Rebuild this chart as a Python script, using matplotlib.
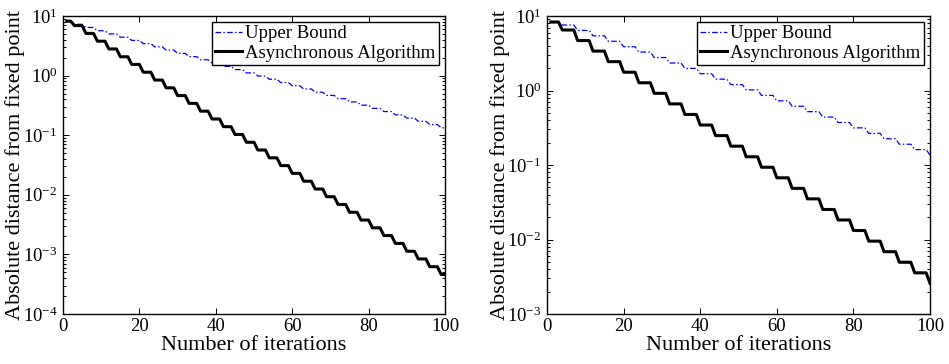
import matplotlib
matplotlib.use("Agg")
import matplotlib.pyplot as plt
from matplotlib.ticker import LogLocator, LogFormatterMathtext, NullFormatter, FixedLocator

plt.rcParams['font.family'] = ['Liberation Serif', 'DejaVu Serif']
plt.rcParams['mathtext.fontset'] = 'custom'
plt.rcParams['mathtext.rm'] = 'Liberation Serif'
plt.rcParams['mathtext.it'] = 'Liberation Serif:italic'
plt.rcParams['mathtext.bf'] = 'Liberation Serif:bold'

# ---------------- data ----------------
iterations = list(range(1, 101))

left_upper_bound = [
    8.24, 8.24,
    7.27, 7.27, 7.27, 6.42, 6.42, 6.42, 5.66, 5.66, 5.66,
    5.00, 5.00, 5.00, 4.41, 4.41, 4.41, 3.89, 3.89, 3.89,
    3.44, 3.44, 3.44, 3.03, 3.03, 3.03, 2.68, 2.68, 2.68,
    2.36, 2.36, 2.36, 2.08, 2.08, 2.08, 1.84, 1.84, 1.84,
    1.62, 1.62, 1.62, 1.43, 1.43, 1.43, 1.26, 1.26, 1.26,
    1.11, 1.11, 1.11, 0.984, 0.984, 0.984, 0.868, 0.868, 0.868,
    0.766, 0.766, 0.766, 0.676, 0.676, 0.676, 0.597, 0.597, 0.597,
    0.526, 0.526, 0.526, 0.465, 0.465, 0.465, 0.410, 0.410, 0.410,
    0.362, 0.362, 0.362, 0.319, 0.319, 0.319, 0.282, 0.282, 0.282,
    0.249, 0.249, 0.249, 0.219, 0.219, 0.219, 0.194, 0.194, 0.194,
    0.171, 0.171, 0.171, 0.151, 0.151, 0.151,
    0.133, 0.133,
]

left_async = [
    8.20, 8.20,
    6.90, 6.90, 6.90, 5.11, 5.11, 5.11, 3.78, 3.78, 3.78,
    2.80, 2.80, 2.80, 2.07, 2.07, 2.07, 1.54, 1.54, 1.54,
    1.14, 1.14, 1.14, 0.842, 0.842, 0.842, 0.624, 0.624, 0.624,
    0.462, 0.462, 0.462, 0.342, 0.342, 0.342, 0.253, 0.253, 0.253,
    0.187, 0.187, 0.187, 0.139, 0.139, 0.139, 0.103, 0.103, 0.103,
    0.0761, 0.0761, 0.0761, 0.0564, 0.0564, 0.0564, 0.0417, 0.0417, 0.0417,
    0.0309, 0.0309, 0.0309, 0.0229, 0.0229, 0.0229, 0.0169, 0.0169, 0.0169,
    0.0125, 0.0125, 0.0125, 0.00929, 0.00929, 0.00929, 0.00688, 0.00688, 0.00688,
    0.00509, 0.00509, 0.00509, 0.00377, 0.00377, 0.00377, 0.00279, 0.00279, 0.00279,
    0.00207, 0.00207, 0.00207, 0.00153, 0.00153, 0.00153, 0.00113, 0.00113, 0.00113,
    0.000839, 0.000839, 0.000839, 0.000622, 0.000622, 0.000622,
    0.000460, 0.000460,
]

right_upper_bound = [
    8.30, 8.30, 8.30,
    7.57, 7.57, 7.57, 7.57, 6.40, 6.40, 6.40, 6.40,
    5.42, 5.42, 5.42, 5.42, 4.58, 4.58, 4.58, 4.58,
    3.87, 3.87, 3.87, 3.87, 3.28, 3.28, 3.28, 3.28,
    2.77, 2.77, 2.77, 2.77, 2.34, 2.34, 2.34, 2.34,
    1.98, 1.98, 1.98, 1.98, 1.68, 1.68, 1.68, 1.68,
    1.42, 1.42, 1.42, 1.42, 1.20, 1.20, 1.20, 1.20,
    1.02, 1.02, 1.02, 1.02, 0.859, 0.859, 0.859, 0.859,
    0.726, 0.726, 0.726, 0.726, 0.614, 0.614, 0.614, 0.614,
    0.520, 0.520, 0.520, 0.520, 0.440, 0.440, 0.440, 0.440,
    0.372, 0.372, 0.372, 0.372, 0.315, 0.315, 0.315, 0.315,
    0.266, 0.266, 0.266, 0.266, 0.225, 0.225, 0.225, 0.225,
    0.190, 0.190, 0.190, 0.190, 0.161, 0.161, 0.161, 0.161,
    0.136,
]

right_async = [
    8.30, 8.30, 8.30,
    6.49, 6.49, 6.49, 6.49, 4.68, 4.68, 4.68, 4.68,
    3.38, 3.38, 3.38, 3.38, 2.44, 2.44, 2.44, 2.44,
    1.76, 1.76, 1.76, 1.76, 1.27, 1.27, 1.27, 1.27,
    0.916, 0.916, 0.916, 0.916, 0.661, 0.661, 0.661, 0.661,
    0.477, 0.477, 0.477, 0.477, 0.344, 0.344, 0.344, 0.344,
    0.248, 0.248, 0.248, 0.248, 0.179, 0.179, 0.179, 0.179,
    0.129, 0.129, 0.129, 0.129, 0.0933, 0.0933, 0.0933, 0.0933,
    0.0673, 0.0673, 0.0673, 0.0673, 0.0486, 0.0486, 0.0486, 0.0486,
    0.0351, 0.0351, 0.0351, 0.0351, 0.0253, 0.0253, 0.0253, 0.0253,
    0.0183, 0.0183, 0.0183, 0.0183, 0.0132, 0.0132, 0.0132, 0.0132,
    0.00951, 0.00951, 0.00951, 0.00951, 0.00686, 0.00686, 0.00686, 0.00686,
    0.00495, 0.00495, 0.00495, 0.00495, 0.00357, 0.00357, 0.00357, 0.00357,
    0.00258,
]

x_ticks = [0, 20, 40, 60, 80, 100]
left_ylim = (1e-4, 1e1)
right_ylim = (1e-3, 1e1)

label_upper = 'Upper Bound'
label_async = 'Asynchronous Algorithm'
xlabel = 'Number of iterations'
ylabel = 'Absolute distance from fixed point'

# ---------------- figure ----------------
fig = plt.figure(figsize=(9.49, 3.64), dpi=100)
ax_l = fig.add_axes([63 / 949, 50 / 364, 382 / 949, 298 / 364])
ax_r = fig.add_axes([547 / 949, 50 / 364, 383 / 949, 298 / 364])

for ax, ub, asy, ylim in [(ax_l, left_upper_bound, left_async, left_ylim),
                          (ax_r, right_upper_bound, right_async, right_ylim)]:
    ax.semilogy(iterations, ub, color='#0000ff', lw=0.9,
                linestyle=(0, (4.5, 1.8, 1.2, 1.8)), label=label_upper)
    ax.semilogy(iterations, asy, color='black', lw=2.2, label=label_async)
    ax.set_xlim(0, 100)
    ax.set_ylim(*ylim)
    ax.xaxis.set_major_locator(FixedLocator(x_ticks))
    ax.yaxis.set_major_locator(LogLocator(base=10, numticks=20))
    ax.yaxis.set_minor_locator(LogLocator(base=10, subs=range(2, 10), numticks=20))
    ax.yaxis.set_major_formatter(LogFormatterMathtext())
    ax.yaxis.set_minor_formatter(NullFormatter())
    ax.tick_params(which='both', direction='in', top=True, right=True,
                   labelsize=13.5, width=0.7)
    ax.tick_params(axis='x', pad=3)
    ax.tick_params(axis='y', pad=4)
    ax.tick_params(which='major', length=4)
    ax.tick_params(which='minor', length=2)
    for s in ax.spines.values():
        s.set_linewidth(1.0)
    ax.set_xlabel(xlabel, fontsize=16, labelpad=0.5)
    ax.set_ylabel(ylabel, fontsize=16, labelpad=-2)
    leg = ax.legend(loc='upper right', fontsize=13.5, fancybox=False,
                    edgecolor='black', framealpha=1, borderaxespad=0.3,
                    handlelength=1.4, handletextpad=0.2, borderpad=0.2,
                    labelspacing=0.1)
    leg.get_frame().set_linewidth(1.0)

fig.savefig('out.png', dpi=100)
